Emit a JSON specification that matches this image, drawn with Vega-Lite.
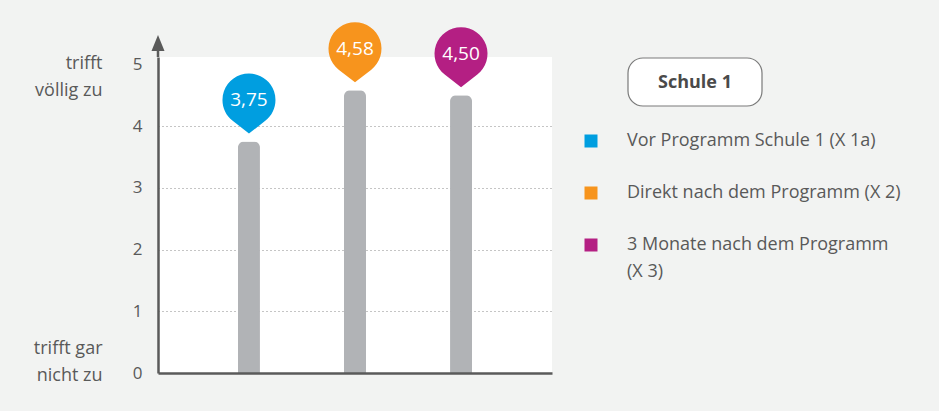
{
  "$schema": "https://vega.github.io/schema/vega-lite/v6.json",
  "width": 394,
  "height": 316,
  "autosize": "none",
  "padding": {"left": 158, "top": 57, "right": 387, "bottom": 38},
  "background": "#f2f3f2",
  "config": {"font": "Open Sans", "view": {"stroke": null, "fill": "white"}, "style": {"guide-label": {"lineHeight": 27}}},
  "data": {"values": [
    {"zeitpunkt": "Vor Programm Schule 1 (X 1a)", "wert": 3.75, "label": "3,75"},
    {"zeitpunkt": "Direkt nach dem Programm (X 2)", "wert": 4.58, "label": "4,58"},
    {"zeitpunkt": "3 Monate nach dem Programm (X 3)", "wert": 4.50, "label": "4,50"}
  ]},
  "resolve": {"axis": {"y": "independent"}, "scale": {"y": "shared"}},
  "layer": [
    {
      "mark": {"type": "bar", "width": 22, "color": "#b1b3b6", "cornerRadiusTopLeft": 6, "cornerRadiusTopRight": 6},
      "encoding": {
        "x": {"field": "zeitpunkt", "type": "nominal", "sort": null,
          "scale": {"paddingInner": 0, "paddingOuter": 0.358},
          "axis": {"title": null, "labels": false, "ticks": false, "grid": false, "domainColor": "#5a5a5a", "domainWidth": 2.5, "zindex": 1}},
        "y": {"field": "wert", "type": "quantitative",
          "scale": {"domain": [0, 5.12], "nice": false, "zero": true},
          "axis": {"orient": "left", "title": null, "values": [0, 1, 2, 3, 4, 5], "ticks": false, "tickSize": 0,
            "labelPadding": 16, "labelFontSize": 17, "labelColor": "#595959", "labelFlush": false, "labelOverlap": false,
            "domainColor": "#5a5a5a", "domainWidth": 2.5,
            "grid": true, "gridColor": "#8a8a8a", "gridDash": [1, 3], "gridWidth": 1,
            "gridOpacity": {"condition": {"test": "datum.value >= 5 || datum.value <= 0", "value": 0}, "value": 1}}}
      }
    },
    {
      "data": {"values": [{"gruppe": "Schule 1"}]},
      "mark": {"type": "point", "filled": false, "fill": "white", "stroke": "#7a7a7a", "strokeWidth": 1.2, "strokeOpacity": 1, "fillOpacity": 1},
      "encoding": {
        "x": {"value": 0},
        "y": {"value": 0},
        "size": {"value": 0},
        "opacity": {"field": "gruppe", "type": "nominal", "scale": {"range": [1]},
          "legend": {"title": null, "orient": "none", "legendX": 461, "legendY": 17, "padding": 0,
            "symbolType": "M15,-25 H119 A15,15 0 0 1 134,-10 V8 A15,15 0 0 1 119,23 H15 A15,15 0 0 1 0,8 V-10 A15,15 0 0 1 15,-25 Z",
            "symbolSize": 4, "symbolStrokeWidth": 1.2, "labelOffset": 21, "labelFontSize": 18, "labelFontWeight": "bold", "labelColor": "#4a4a4a"}}
      }
    },
    {
      "mark": {"type": "point", "shape": "M0,-8 L-16.3,-20.7 A26.5,26.5 0 1 1 16.3,-20.7 Z", "size": 4, "filled": true, "opacity": 1, "strokeWidth": 0},
      "encoding": {
        "x": {"field": "zeitpunkt", "type": "nominal", "sort": null},
        "y": {"field": "wert", "type": "quantitative", "axis": null},
        "color": {"field": "zeitpunkt", "type": "nominal",
          "scale": {"domain": ["Vor Programm Schule 1 (X 1a)", "Direkt nach dem Programm (X 2)", "3 Monate nach dem Programm (X 3)"],
                    "range": ["#009ee0", "#f7941d", "#b41f83"]},
          "legend": {"title": null, "orient": "none", "legendX": 424, "legendY": 75, "padding": 0,
            "symbolType": "square", "symbolSize": 169, "labelFontSize": 18, "labelColor": "#595959", "labelOffset": 27,
            "rowPadding": 34, "labelLimit": 400, "labelBaseline": "middle",
            "labelExpr": "datum.label == '3 Monate nach dem Programm (X 3)' ? ['3 Monate nach dem Programm', '(X 3)'] : datum.label"}}
      }
    },
    {
      "mark": {"type": "text", "dy": -41.6, "baseline": "middle", "align": "center", "fontSize": 19, "color": "white"},
      "encoding": {
        "x": {"field": "zeitpunkt", "type": "nominal", "sort": null},
        "y": {"field": "wert", "type": "quantitative",
          "axis": {"orient": "left", "title": null, "values": [0, 5], "domain": false, "grid": false, "ticks": false, "tickSize": 0,
            "labelPadding": 56, "labelFontSize": 18, "labelColor": "#595959", "labelAlign": "right", "labelBaseline": "middle",
            "labelLineHeight": 27, "labelFlush": false, "labelOverlap": false,
            "labelExpr": "datum.value >= 5 ? ['trifft', 'völlig zu'] : ['trifft gar', 'nicht zu']",
            "labelOffset": {"condition": {"test": "datum.value <= 0", "value": -25}, "value": -1}}},
        "text": {"field": "label"}
      }
    },
    {
      "data": {"values": [{}]},
      "mark": {"type": "point", "shape": "M-1.25,0 V-6 H-6.5 L0,-22 L6.5,-6 H1.25 V0 Z", "size": 4, "filled": true, "color": "#5a5a5a", "opacity": 1, "strokeWidth": 0},
      "encoding": {"x": {"value": 0}, "y": {"value": 0}}
    }
  ]
}
